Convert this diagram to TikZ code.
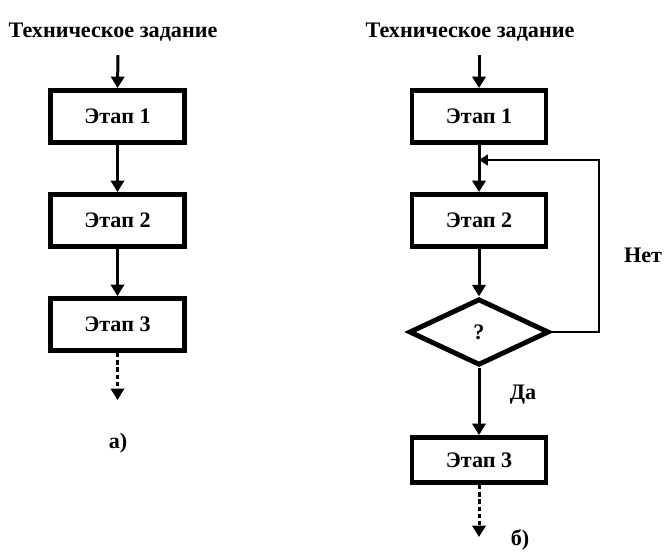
\documentclass[tikz,border=0pt]{standalone}
\usepackage{fontspec}
\setmainfont{Liberation Serif}
\usetikzlibrary{arrows.meta,shapes.geometric}

\begin{document}
\begin{tikzpicture}[x=0.02cm,y=-0.02cm,
    font=\fontsize{12.6}{14}\selectfont\bfseries,
    stage/.style={draw,line width=2.8pt,minimum width=2.68cm,minimum height=1.04cm,inner sep=0pt},
    check/.style={draw,shape=diamond,line width=2.8pt,aspect=2.1,minimum width=2.8cm,minimum height=1.33cm,inner sep=0pt},
    arr/.style={line width=1.7pt,-{Triangle[width=7.5pt,length=6.5pt]}},
    dots/.style={arr,dash pattern=on 2.5pt off 1.6pt}]
    \useasboundingbox (0,0) rectangle (668,556);
    %%left_scheme
    \node (ta) at (113,32) {Техническое задание};
    \coordinate (ina) at (118,55);
    \node[stage] (a1) at (117.5,116.5) {Этап 1};
    \node[stage] (a2) at (117.5,220.5) {Этап 2};
    \node[stage] (a3) at (117.5,324.5) {Этап 3};
    \coordinate (outa) at (117.5,400);
    \draw[arr] (ina) -- (a1.north);
    \draw[arr] (a1) -- (a2);
    \draw[arr] (a2) -- (a3);
    \draw[dots] (a3.south) -- (outa);
    \node (capa) at (118,443) {а)};
    %%right_scheme
    \node (tb) at (470,32) {Техническое задание};
    \coordinate (inb) at (479,55);
    \node[stage] (b1) at (479,116.5) {Этап 1};
    \node[stage] (b2) at (479,220.5) {Этап 2};
    \node[check] (q) at (479,332) {?};
    \node[stage,minimum height=0.9cm] (b3) at (479,460) {Этап 3};
    \coordinate (outb) at (479,537);
    \coordinate (loop) at (479,160);
    \draw[arr] (inb) -- (b1.north);
    \draw[arr] (b1) -- (b2);
    \draw[arr] (b2) -- (q.north);
    \draw[arr] (q.south) -- (b3);
    \draw[dots] (b3.south) -- (outb);
    %%feedback
    \draw[line width=1.1pt,-{Triangle[width=6pt,length=5pt]}] (q.east) -- ++(48,0) |- (loop);
    \node (no) at (643,255) {Нет};
    \node (yes) at (523,395) {Да};
    \node (capb) at (520,540) {б)};
\end{tikzpicture}
\end{document}
